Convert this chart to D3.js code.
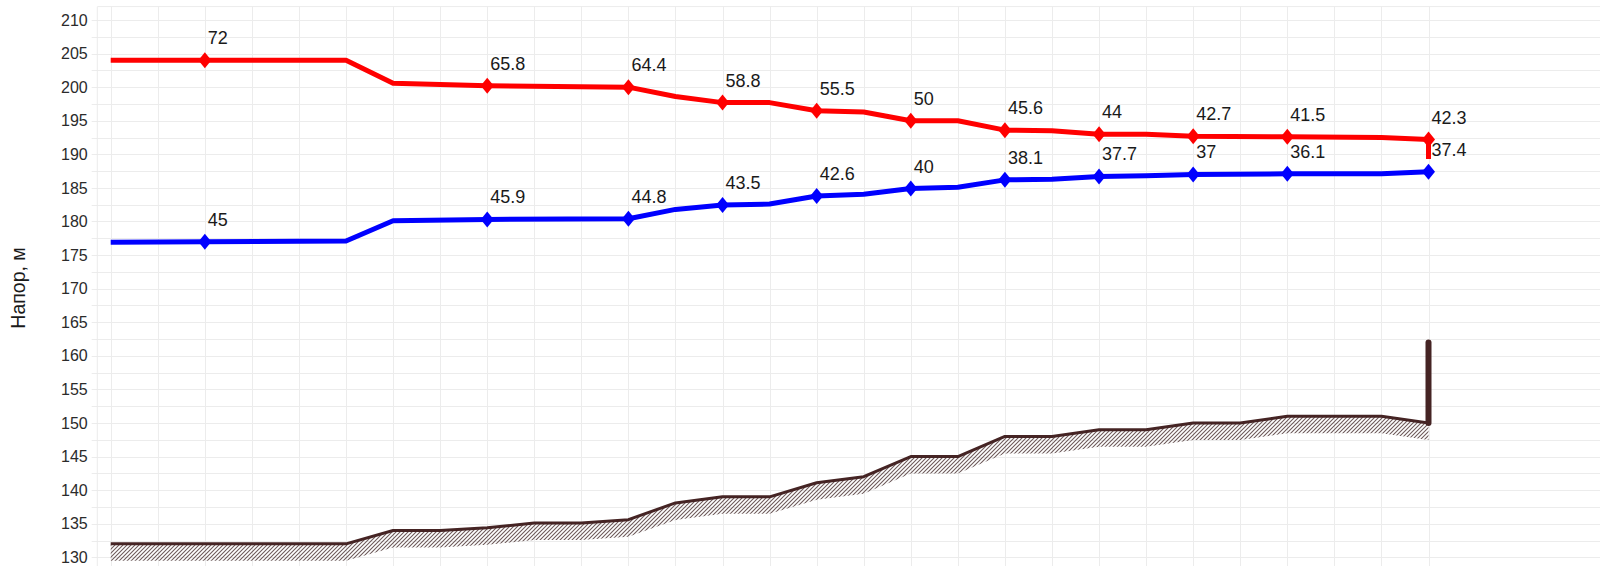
<!DOCTYPE html>
<html>
<head>
<meta charset="utf-8">
<script src="https://cdn.jsdelivr.net/npm/d3@7"></script>
<style>
  body { margin: 0; background: #fff; }
  svg { display: block; font-family: "Liberation Sans", Arial, sans-serif; }
  .grid line { stroke: #ececec; stroke-width: 1; }
  .yAxis text { font-size: 16px; fill: #2b2b2b; }
  .yAxis path { display: none; }
  .label { font-size: 18px; fill: #1a1a1a; }
  .title { font-size: 19.5px; fill: #1a1a1a; }
</style>
</head>
<body>
<div id="chart"></div>
<script>
// station positions (grid steps) where the head lines break
var headX = [0, 2, 5, 6, 8, 11, 12, 13, 14, 15, 16, 17, 18, 19, 20, 21, 22, 23, 25, 27, 28];
var redHead = [204, 204, 204, 200.6, 200.2, 200.0, 198.6, 197.7, 197.7, 196.5, 196.3, 195.0, 195.0, 193.6, 193.5, 193.0, 193.0, 192.7, 192.6, 192.5, 192.2];
var blueHead = [176.9, 177.0, 177.1, 180.1, 180.3, 180.4, 181.8, 182.45, 182.6, 183.8, 184.05, 184.9, 185.1, 186.2, 186.3, 186.7, 186.8, 187.0, 187.1, 187.1, 187.4];
var redEnd = 189.3;

// ground profile
var groundX = [0, 1, 2, 3, 4, 5, 6, 7, 8, 9, 10, 11, 12, 13, 14, 15, 16, 17, 18, 19, 20, 21, 22, 23, 24, 25, 26, 27, 28];
var ground = [132, 132, 132, 132, 132, 132, 134, 134, 134.4, 135.1, 135.1, 135.6, 138.1, 139, 139, 141.1, 142, 145, 145, 148, 148, 149, 149, 150, 150, 151, 151, 151, 150];
var standX = 28;
var standTop = 162;

// marked points and their labels
var markX = [2, 8, 11, 13, 15, 17, 19, 21, 23, 25, 28];
var redLabels = ["72", "65.8", "64.4", "58.8", "55.5", "50", "45.6", "44", "42.7", "41.5", "42.3"];
var blueLabels = ["45", "45.9", "44.8", "43.5", "42.6", "40", "38.1", "37.7", "37", "36.1", "37.4"];

var yTicks = d3.range(130, 211, 5);
var yTitle = "Напор, м";

var width = 1600;
var height = 566;
var plotLeft = 97.3;
var plotTop = 6.6;

var svg = d3.select("#chart")
    .append("svg")
    .attr("width", width)
    .attr("height", height);

var xScale = d3.scaleLinear()
    .domain([0, 28])
    .range([110.7, 1428.5]);

var yScale = d3.scaleLinear()
    .domain([130, 210])
    .range([557.3, 20]);

// hatch for the ground
var defs = svg.append("defs");
defs.append("pattern")
    .attr("id", "hatch")
    .attr("patternUnits", "userSpaceOnUse")
    .attr("width", 4)
    .attr("height", 4)
    .append("path")
    .attr("d", "M-1,1 l2,-2 M0,4 l4,-4 M3,5 l2,-2")
    .attr("stroke", "#6e5a5a")
    .attr("stroke-width", 1.1);

// grid
var grid = svg.append("g").attr("class", "grid");
grid.selectAll("line.h")
    .data(d3.range(127.5, 211, 2.5))
    .enter()
    .append("line")
    .attr("class", "h")
    .attr("x1", 91.7)
    .attr("x2", width)
    .attr("y1", function (d) { return Math.round(yScale(d)) + 0.5; })
    .attr("y2", function (d) { return Math.round(yScale(d)) + 0.5; });

grid.append("line")
    .attr("x1", plotLeft)
    .attr("x2", width)
    .attr("y1", plotTop)
    .attr("y2", plotTop);

grid.append("line")
    .attr("x1", plotLeft)
    .attr("x2", plotLeft)
    .attr("y1", plotTop)
    .attr("y2", height);

grid.selectAll("line.v")
    .data(groundX)
    .enter()
    .append("line")
    .attr("class", "v")
    .attr("x1", function (d) { return Math.round(xScale(d)) + 0.5; })
    .attr("x2", function (d) { return Math.round(xScale(d)) + 0.5; })
    .attr("y1", plotTop)
    .attr("y2", height);

// y axis
svg.append("g")
    .attr("class", "yAxis")
    .attr("transform", "translate(91.7,0)")
    .call(d3.axisLeft(yScale).tickValues(yTicks).tickSize(0).tickPadding(4))
    .selectAll("text")
    .attr("font-family", null);

svg.append("text")
    .attr("class", "title")
    .attr("transform", "translate(25,288)rotate(-90)")
    .attr("text-anchor", "middle")
    .text(yTitle);

// ground band with hatching
var groundPts = groundX.map(function (d, i) { return [d, ground[i]]; });
var band = d3.area()
    .x(function (d) { return xScale(d[0]); })
    .y0(function (d) { return yScale(d[1]) + 17; })
    .y1(function (d) { return yScale(d[1]); });

svg.append("path")
    .datum(groundPts)
    .attr("d", band)
    .attr("fill", "url(#hatch)");

var line = d3.line()
    .x(function (d) { return xScale(d[0]); })
    .y(function (d) { return yScale(d[1]); });

svg.append("path")
    .datum(groundPts)
    .attr("d", line)
    .attr("fill", "none")
    .attr("stroke", "#452424")
    .attr("stroke-width", 3)
    .attr("stroke-linejoin", "round");

svg.append("path")
    .datum([[standX, ground[ground.length - 1]], [standX, standTop]])
    .attr("d", line)
    .attr("fill", "none")
    .attr("stroke", "#452424")
    .attr("stroke-width", 6)
    .attr("stroke-linecap", "round");

// head lines
var redPts = headX.map(function (d, i) { return [d, redHead[i]]; });
redPts.push([headX[headX.length - 1], redEnd]);
var bluePts = headX.map(function (d, i) { return [d, blueHead[i]]; });

function drawSeries(pts, values, labels, color) {
    svg.append("path")
        .datum(pts)
        .attr("d", line)
        .attr("fill", "none")
        .attr("stroke", color)
        .attr("stroke-width", 5)
        .attr("stroke-linejoin", "round");

    var marks = markX.map(function (d, i) {
        return { x: d, v: values[headX.indexOf(d)], t: labels[i] };
    });

    svg.selectAll(null)
        .data(marks)
        .enter()
        .append("path")
        .attr("d", "M0,-8L6.5,0L0,8L-6.5,0Z")
        .attr("fill", color)
        .attr("transform", function (d) {
            return "translate(" + xScale(d.x) + "," + yScale(d.v) + ")";
        });

    svg.selectAll(null)
        .data(marks)
        .enter()
        .append("text")
        .attr("class", "label")
        .attr("x", function (d) { return xScale(d.x) + 3; })
        .attr("y", function (d) { return yScale(d.v) - 16; })
        .text(function (d) { return d.t; });
}

drawSeries(redPts, redHead, redLabels, "#ff0000");
drawSeries(bluePts, blueHead, blueLabels, "#0000ff");
</script>
</body>
</html>
